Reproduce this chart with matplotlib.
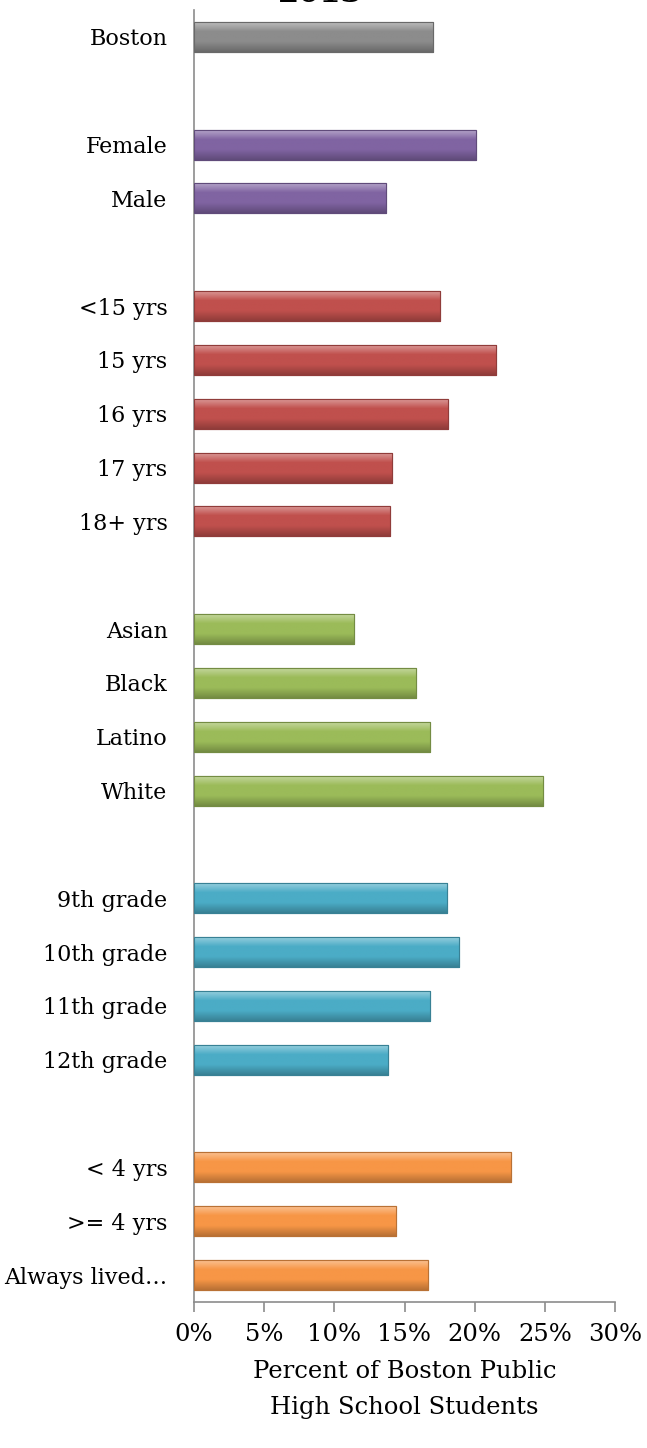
import numpy as np
import matplotlib.pyplot as plt
from matplotlib.colors import LinearSegmentedColormap, to_rgb

# groups of bars, top to bottom; a blank slot separates groups
groups = [
    ["Boston"],
    ["Female", "Male"],
    ["<15 yrs", "15 yrs", "16 yrs", "17 yrs", "18+ yrs"],
    ["Asian", "Black", "Latino", "White"],
    ["9th grade", "10th grade", "11th grade", "12th grade"],
    ["< 4 yrs", ">= 4 yrs", "Always lived…"],
]
values = [
    [17.0],
    [20.1, 13.7],
    [17.5, 21.5, 18.1, 14.1, 14.0],
    [11.4, 15.8, 16.8, 24.9],
    [18.0, 18.9, 16.8, 13.8],
    [22.6, 14.4, 16.7],
]
colors = ["#8c8c8c", "#8064a2", "#c0504d", "#9bbb59", "#4bacc6", "#f79646"]
xticks = [0, 5, 10, 15, 20, 25, 30]

plt.rcParams['font.family'] = ['DejaVu Serif']

fig = plt.figure(figsize=(6.47, 14.48), dpi=100)
ax = fig.add_axes([194/647, 1 - 1302/1448, 421/647, 1292/1448])

labels, pos = [], []
slot = 0
bar_h = 0.56
for g, (names, vals, col) in enumerate(zip(groups, values, colors)):
    base = np.array(to_rgb(col))
    light = np.clip(base + (1 - base) * 0.45, 0, 1)
    dark = base * 0.75
    cmap = LinearSegmentedColormap.from_list(f"g{g}", [light, base, base, dark])
    for name, v in zip(names, vals):
        bars = ax.barh(slot, v, height=bar_h, color=col, edgecolor=dark, linewidth=0.8, zorder=2)
        rect = bars.patches[0]
        grad = np.linspace(0, 1, 64).reshape(-1, 1)
        im = ax.imshow(grad, cmap=cmap, aspect='auto', zorder=3,
                       extent=[0, v, slot + bar_h / 2, slot - bar_h / 2])
        im.set_clip_path(rect)
        ax.barh(slot, v, height=bar_h, facecolor='none', edgecolor=dark, linewidth=0.8, zorder=4)
        labels.append(name)
        pos.append(slot)
        slot += 1
    slot += 1

ax.set_ylim(slot - 1.5, -0.5)
ax.set_xlim(0, 30)
ax.set_yticks(pos)
ax.set_yticklabels(labels, fontsize=16)
ax.set_xticks(xticks)
ax.set_xticklabels([f"{t}%" for t in xticks], fontsize=17.5)
ax.tick_params(axis='y', length=0, pad=19)
ax.tick_params(axis='x', length=7, color='#8c8c8c', width=1.2, pad=8)
for s in ['top', 'right']:
    ax.spines[s].set_visible(False)
for s in ['left', 'bottom']:
    ax.spines[s].set_color('#8c8c8c')
    ax.spines[s].set_linewidth(1.2)

ax.set_xlabel("Percent of Boston Public\nHigh School Students", fontsize=17.5, labelpad=10,
              linespacing=1.75)
fig.text(0.495, 1 - 2/1448, "2013", ha='center', va='baseline', fontsize=22, fontweight='bold')

fig.savefig("out.png", dpi=100)
